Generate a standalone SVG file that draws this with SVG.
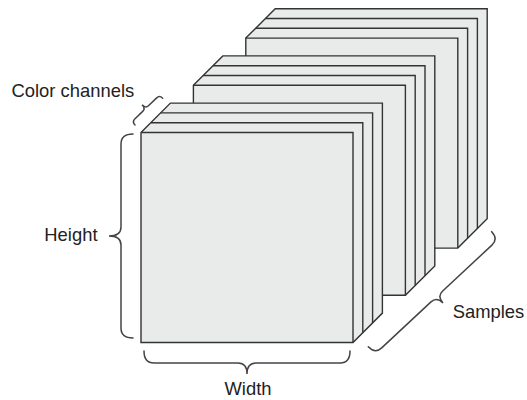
<svg xmlns="http://www.w3.org/2000/svg" width="527" height="400" viewBox="0 0 527 400">
<style>
.face{fill:#e9eaea;stroke:#333;stroke-width:1.4;stroke-linejoin:miter}
.edge{fill:none;stroke:#333;stroke-width:1.4}
.brace{fill:none;stroke:#444;stroke-width:1.5;stroke-linecap:round}
.lbl{font-family:"Liberation Sans",Arial,sans-serif;font-size:18.4px;fill:#222}
</style>
<rect width="527" height="400" fill="#fff"/>
<g id="sample3">
<polygon class="face" points="245.8,38.1 275.2,8.7 487.2,8.7 487.2,218.7 457.8,248.1 245.8,248.1"/>
<path class="edge" d="M255.6,28.3 H467.6 V238.3 M265.4,18.5 H477.4 V228.5 M245.8,38.1 H457.8 V248.1"/>
</g>
<g id="sample2">
<polygon class="face" points="193.4,85.3 222.8,55.9 434.8,55.9 434.8,265.9 405.4,295.3 193.4,295.3"/>
<path class="edge" d="M203.2,75.5 H415.2 V285.5 M213,65.7 H425 V275.7 M193.4,85.3 H405.4 V295.3"/>
</g>
<g id="sample1">
<polygon class="face" points="141,132.5 170.4,103.1 382.4,103.1 382.4,313.1 353,342.5 141,342.5"/>
<path class="edge" d="M150.8,122.7 H362.8 V332.7 M160.6,112.9 H372.6 V322.9 M141,132.5 H353 V342.5"/>
</g>
<g id="braces">
<path class="brace" transform="translate(144,351)" d="M0,0 Q0,12 10,12 H94 Q103,12 103,23 Q103,12 112,12 H196 Q206,12 206,0"/>
<path class="brace" transform="translate(133,134) rotate(90)" d="M0,0 Q0,12 10,12 H93 Q102,12 102,24 Q102,12 111,12 H194 Q204,12 204,0"/>
<path class="brace" transform="translate(368.3,346.7) rotate(-43)" d="M0,0 Q0,10 9,10 H76.4 Q84.4,10 84.4,19 Q84.4,10 92.4,10 H159.7 Q168.7,10 168.7,0"/>
<path class="brace" transform="translate(162.7,98.3) rotate(136)" d="M0,0 Q0,4.5 4,4.5 H15.5 Q19.3,4.5 19.3,9.7 Q19.3,4.5 23.1,4.5 H34.5 Q38.5,4.5 38.5,0"/>
</g>
<g id="labels">
<text class="lbl" x="11.5" y="97.3">Color channels</text>
<text class="lbl" x="97.5" y="241" text-anchor="end">Height</text>
<text class="lbl" x="248" y="395" text-anchor="middle">Width</text>
<text class="lbl" x="452.7" y="318.3">Samples</text>
</g>
</svg>
